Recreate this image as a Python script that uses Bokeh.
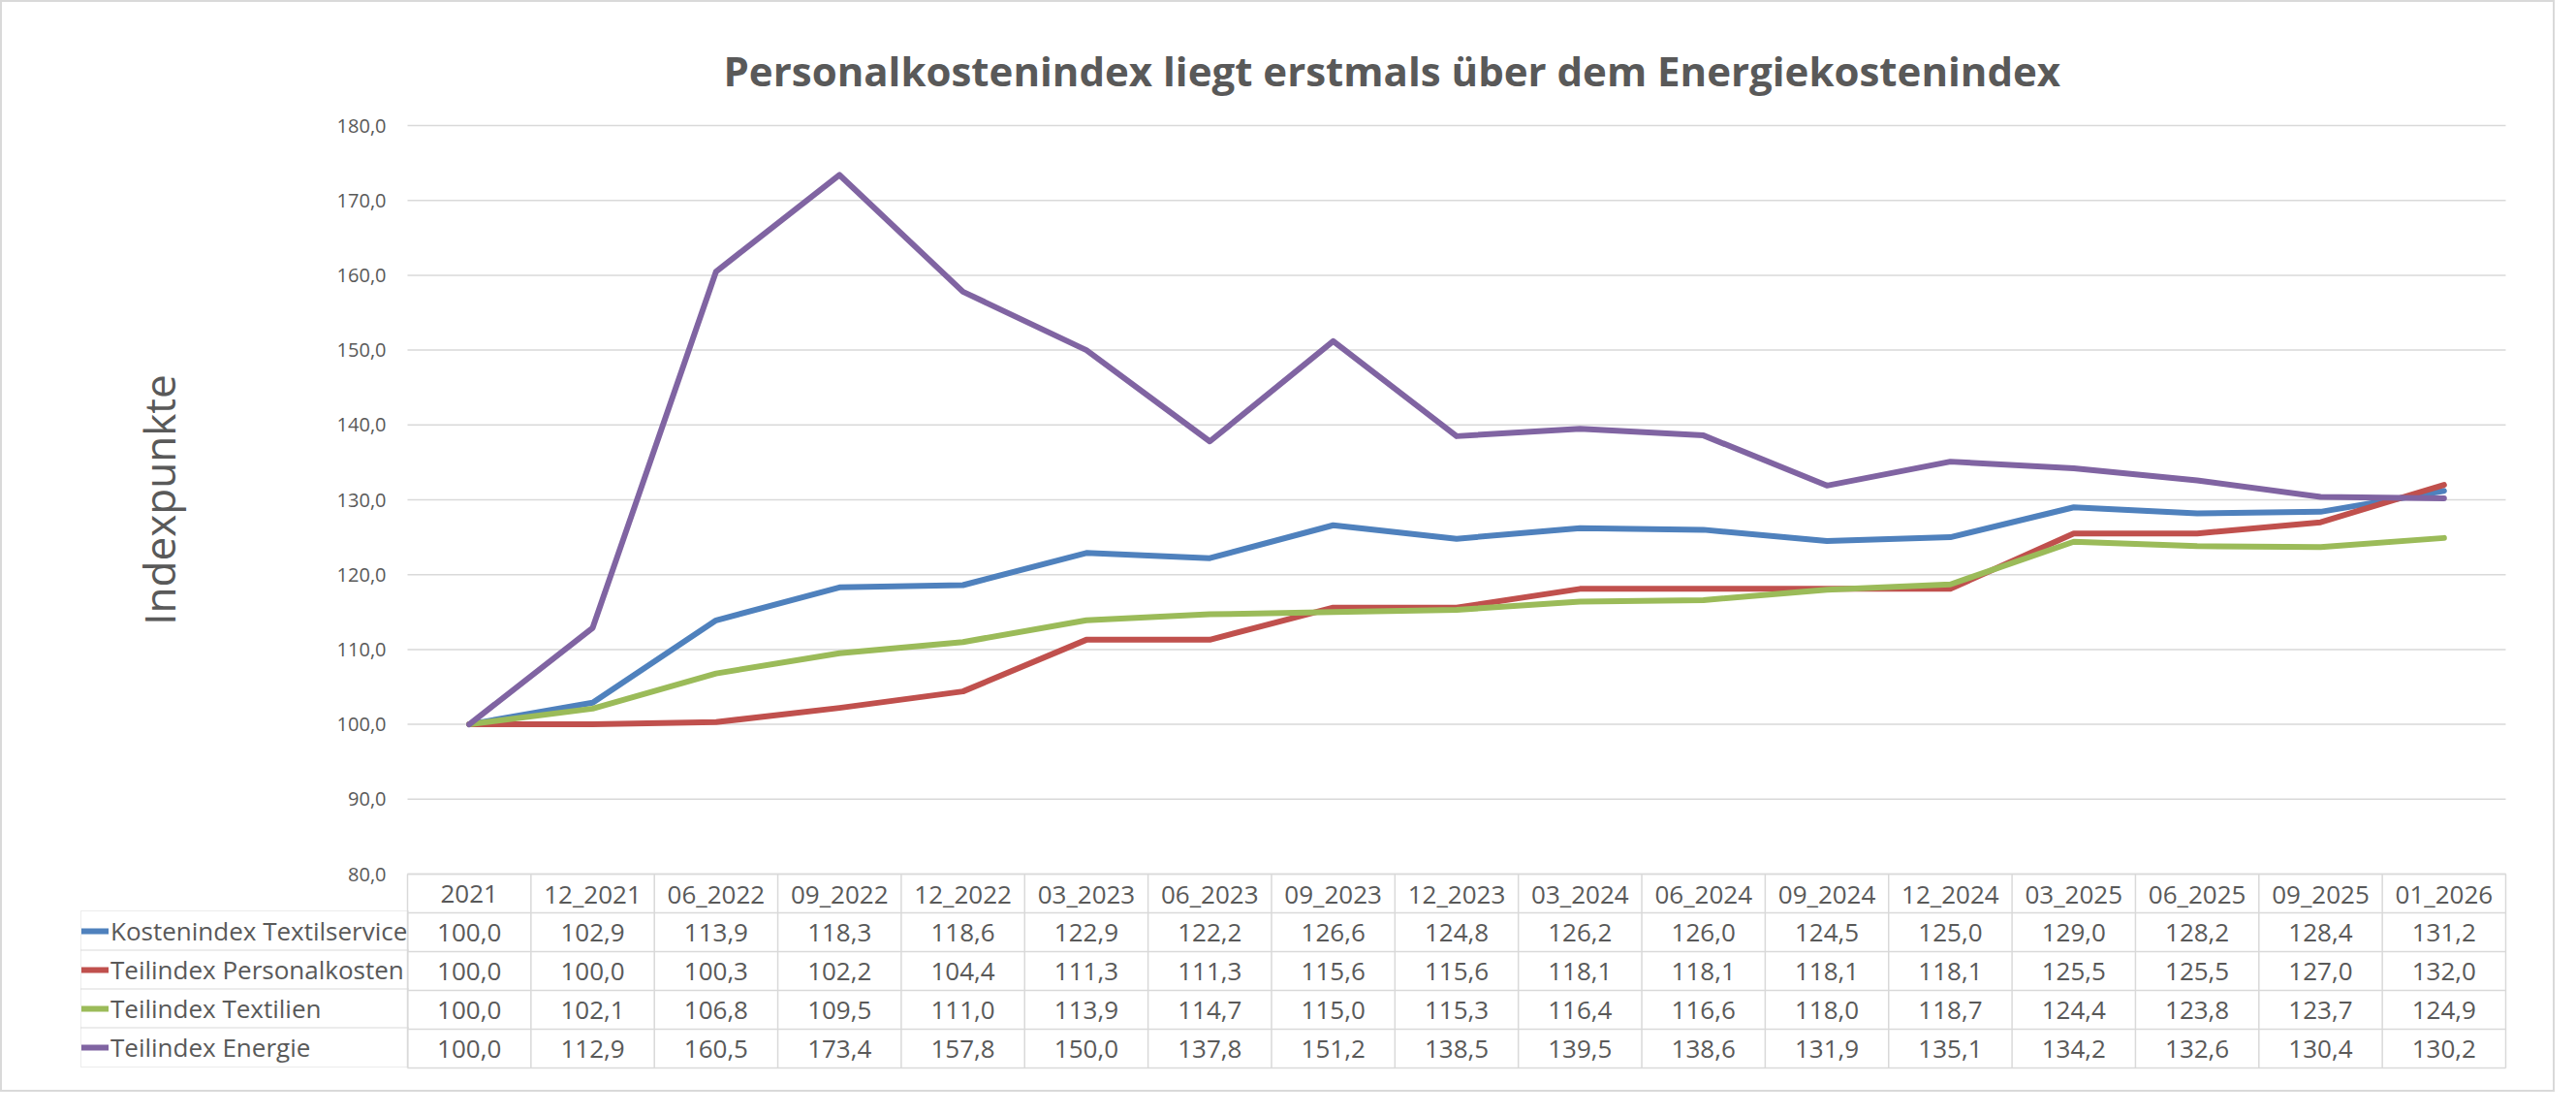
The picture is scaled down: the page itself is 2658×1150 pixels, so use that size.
import math
from bokeh.plotting import figure
from bokeh.models import ColumnDataSource, Range1d, Legend, LegendItem
from bokeh.core.properties import value
from bokeh.embed import file_html
from bokeh.resources import INLINE

# ---------------- data ----------------
categories = ["2021", "12_2021", "06_2022", "09_2022", "12_2022", "03_2023", "06_2023",
              "09_2023", "12_2023", "03_2024", "06_2024", "09_2024", "12_2024", "03_2025",
              "06_2025", "09_2025", "01_2026"]
kostenindex_textilservice = [100.0, 102.9, 113.9, 118.3, 118.6, 122.9, 122.2, 126.6, 124.8,
                             126.2, 126.0, 124.5, 125.0, 129.0, 128.2, 128.4, 131.2]
teilindex_personalkosten = [100.0, 100.0, 100.3, 102.2, 104.4, 111.3, 111.3, 115.6, 115.6,
                            118.1, 118.1, 118.1, 118.1, 125.5, 125.5, 127.0, 132.0]
teilindex_textilien = [100.0, 102.1, 106.8, 109.5, 111.0, 113.9, 114.7, 115.0, 115.3,
                       116.4, 116.6, 118.0, 118.7, 124.4, 123.8, 123.7, 124.9]
teilindex_energie = [100.0, 112.9, 160.5, 173.4, 157.8, 150.0, 137.8, 151.2, 138.5,
                     139.5, 138.6, 131.9, 135.1, 134.2, 132.6, 130.4, 130.2]
series_names = ["Kostenindex Textilservice", "Teilindex Personalkosten",
                "Teilindex Textilien", "Teilindex Energie"]
series_values = [kostenindex_textilservice, teilindex_personalkosten,
                 teilindex_textilien, teilindex_energie]
y_ticks = [80, 90, 100, 110, 120, 130, 140, 150, 160, 170, 180]
y_tick_labels = ["80,0", "90,0", "100,0", "110,0", "120,0", "130,0", "140,0",
                 "150,0", "160,0", "170,0", "180,0"]
title_text = "Personalkostenindex liegt erstmals über dem Energiekostenindex"
y_label = "Indexpunkte"

# ---------------- style / layout ----------------
series_colors = ["#4F81BD", "#C0504D", "#9BBB59", "#8064A2"]
FONT = "Open Sans"
TEXT = "#595959"
GRID = "#D9D9D9"

W, H = 2636, 1126
OFF = 2                        # border width
PLOT_L, PLOT_R = 420, 2585     # plot area (reference px)
PLOT_T, PLOT_B = 129, 901      # y=180 / y=80
ROWS = [901, 941, 981, 1021, 1061, 1101]
LEG_L = 83
TICK_R = 398                   # right edge of y tick labels
YLAB_X = 163                   # centre of the y axis title
TITLE_L = 744                  # left edge of the title text
PAD = 3
Y_MIN, Y_MAX = 80, 180

n = len(categories)
col_w = (PLOT_R - PLOT_L) / n
ppu = (PLOT_B - PLOT_T) / (Y_MAX - Y_MIN)

FL = LEG_L - PAD               # frame edges in reference px
FR = PLOT_R + PAD
FT = 112
FB = ROWS[-1] + PAD


def ydata(py):
    return Y_MAX - (py - PLOT_T) / ppu


def xdata(px):
    return -0.5 + (px - PLOT_L) / col_w


x_range = Range1d(xdata(FL), xdata(FR))
y_range = Range1d(ydata(FB), ydata(FT))

p = figure(width=W, height=H, x_range=x_range, y_range=y_range,
           output_backend="svg", toolbar_location=None,
           x_axis_location=None, y_axis_location=None,
           min_border_left=FL - OFF, min_border_right=W - (FR - OFF),
           min_border_top=FT - OFF, min_border_bottom=H - (FB - OFF),
           outline_line_color=None, background_fill_color="white",
           border_fill_color="white")
p.styles = {"border": "2px solid #D9D9D9"}
p.grid.visible = False

# title
p.title.text = title_text
p.title.text_font = FONT
p.title.text_font_size = "42px"
p.title.text_font_style = "bold"
p.title.text_color = TEXT
p.title.align = "left"
p.title.offset = TITLE_L - (FL - OFF)
p.title.standoff = 24

# horizontal grid lines (value axis)
x_left, x_right = -0.5, n - 0.5
p.segment(x0=[x_left] * len(y_ticks), x1=[x_right] * len(y_ticks), y0=y_ticks, y1=y_ticks,
          line_color=GRID, line_width=1.5)
# y tick labels
p.text(x=[xdata(TICK_R)] * len(y_ticks), y=y_ticks, text=y_tick_labels,
       text_font=value(FONT), text_font_size="20px", text_color=TEXT,
       text_align="right", text_baseline="middle")
# y axis title
p.text(x=[xdata(YLAB_X)], y=[(Y_MIN + Y_MAX) / 2], text=[y_label], angle=math.pi / 2,
       text_font=value(FONT), text_font_size="44px", text_color=TEXT,
       text_align="center", text_baseline="middle")

# data table grid
row_y = [ydata(r) for r in ROWS]
vx = [k - 0.5 for k in range(n + 1)]
p.segment(x0=vx, x1=vx, y0=[row_y[0]] * len(vx), y1=[row_y[-1]] * len(vx),
          line_color=GRID, line_width=1.5)
p.segment(x0=[x_left] * len(row_y), x1=[x_right] * len(row_y), y0=row_y, y1=row_y,
          line_color=GRID, line_width=1.5)

idx = list(range(n))
hdr = ColumnDataSource(dict(x=idx, y=[(row_y[0] + row_y[1]) / 2] * n, t=categories))
p.text(x="x", y="y", text="t", source=hdr, text_font=value(FONT), text_font_size="26px",
       text_color=TEXT, text_align="center", text_baseline="middle")

renderers = []
for i, (name, vals, color) in enumerate(zip(series_names, series_values, series_colors)):
    r = p.line(x=idx, y=vals, line_color=color, line_width=6,
               line_join="round", line_cap="round")
    renderers.append(r)
    cy = (row_y[i + 1] + row_y[i + 2]) / 2
    src = ColumnDataSource(dict(x=idx, y=[cy] * n,
                                t=[f"{v:.1f}".replace(".", ",") for v in vals]))
    p.text(x="x", y="y", text="t", source=src, text_font=value(FONT), text_font_size="26px",
           text_color=TEXT, text_align="center", text_baseline="middle")

for i, (name, r) in enumerate(zip(series_names, renderers)):
    leg = Legend(items=[LegendItem(label=name, renderers=[r])],
                 location=(LEG_L - FL, FB - ROWS[i + 2]),
                 orientation="vertical", padding=0, margin=0, spacing=0,
                 glyph_width=28, glyph_height=40, label_height=40,
                 label_standoff=2, label_width=(PLOT_L - LEG_L) - 30,
                 border_line_color=GRID, border_line_width=1.5,
                 background_fill_alpha=0,
                 label_text_font=FONT, label_text_font_size="26px",
                 label_text_color=TEXT)
    p.add_layout(leg)

open("out.html", "w").write(file_html(p, INLINE))
